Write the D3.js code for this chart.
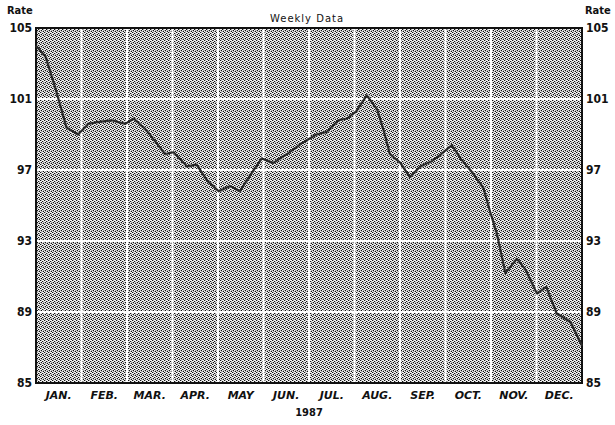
<!DOCTYPE html>
<html>
<head>
<meta charset="utf-8">
<script src="https://cdn.jsdelivr.net/npm/d3@7"></script>
<style>
  html, body { margin: 0; padding: 0; background: #fff; }
  svg { display: block; }
</style>
</head>
<body>
<div id="chart"></div>
<script>
// 1987 weekly rate (week number from Jan 1, value)
const weeks = [0, 0.9, 1.8, 2.9, 4.0, 5.0, 5.8, 7.2, 8.5, 9.3, 10.5, 12.3, 13.1, 14.4, 15.3,
    16.3, 17.4, 18.5, 19.4, 20.5, 21.5, 22.6, 23.9, 25.3, 26.7, 27.7, 28.8, 29.6, 30.5,
    31.5, 32.5, 33.1, 33.7, 34.7, 35.6, 36.6, 37.7, 38.6, 39.6, 40.5, 41.5, 42.6, 43.2,
    43.9, 44.7, 45.8, 46.6, 47.7, 48.6, 49.6, 50.9, 52];
const rates = [104.0, 103.4, 101.7, 99.4, 99.0, 99.6, 99.7, 99.8, 99.6, 99.9, 99.25, 97.9, 98.0, 97.2, 97.3,
    96.4, 95.8, 96.1, 95.8, 96.8, 97.65, 97.4, 97.9, 98.5, 99.0, 99.15, 99.8, 99.9, 100.3,
    101.2, 100.4, 99.25, 97.9, 97.4, 96.6, 97.2, 97.5, 97.9, 98.4, 97.6, 96.9, 96.0, 94.75,
    93.4, 91.2, 92.0, 91.4, 90.05, 90.4, 88.9, 88.45, 87.1];

const months = ['JAN.', 'FEB.', 'MAR.', 'APR.', 'MAY', 'JUN.', 'JUL.', 'AUG.', 'SEP.', 'OCT.', 'NOV.', 'DEC.'];
const yTicks = [85, 89, 93, 97, 101, 105];

const W = 615, H = 425;
const margin = { top: 28, right: 33, bottom: 42, left: 36 };
const width = W - margin.left - margin.right;
const height = H - margin.top - margin.bottom;

const svg = d3.select('#chart').append('svg')
    .attr('width', W)
    .attr('height', H);

// dithered grey fill (black / grey / white pixels)
const defs = svg.append('defs');
const pat = defs.append('pattern')
    .attr('id', 'dither')
    .attr('patternUnits', 'userSpaceOnUse')
    .attr('width', 4)
    .attr('height', 4);
pat.append('rect').attr('width', 4).attr('height', 4).attr('fill', '#f4f4f4');
[[1, 0], [3, 1], [0, 2], [2, 3], [3, 2], [1, 3]].forEach(([px, py]) => {
    pat.append('rect').attr('x', px).attr('y', py).attr('width', 1).attr('height', 1).attr('fill', '#b0b0b0');
});
[[0, 0], [2, 1], [1, 2], [3, 3]].forEach(([px, py]) => {
    pat.append('rect').attr('x', px).attr('y', py).attr('width', 1).attr('height', 1).attr('fill', '#111');
});

const x = d3.scaleLinear().domain([0, 52]).range([0, width]);
const xm = d3.scaleLinear().domain([0, 12]).range([0, width]);
const y = d3.scaleLinear().domain([85, 105]).range([height, 0]);

const g = svg.append('g').attr('transform', `translate(${margin.left},${margin.top})`);

g.append('rect')
    .attr('width', width)
    .attr('height', height)
    .attr('fill', 'url(#dither)');

// white grid
g.append('g').selectAll('line')
    .data(d3.range(1, 12))
    .join('line')
    .attr('x1', d => xm(d)).attr('x2', d => xm(d))
    .attr('y1', 0).attr('y2', height)
    .attr('stroke', '#fff').attr('stroke-width', 2);

g.append('g').selectAll('line')
    .data(yTicks.slice(1, -1))
    .join('line')
    .attr('x1', 0).attr('x2', width)
    .attr('y1', d => y(d)).attr('y2', d => y(d))
    .attr('stroke', '#fff').attr('stroke-width', 2);

// frame
g.append('rect')
    .attr('width', width)
    .attr('height', height)
    .attr('fill', 'none')
    .attr('stroke', '#111')
    .attr('stroke-width', 2);

// data line
const line = d3.line()
    .x((d, i) => x(weeks[i]))
    .y(d => y(d));

g.append('path')
    .datum(rates)
    .attr('d', line)
    .attr('fill', 'none')
    .attr('stroke', '#2a2a2a')
    .attr('stroke-width', 2.2)
    .attr('stroke-linejoin', 'round');

// y labels both sides
const numFont = '"DejaVu Sans Condensed", "DejaVu Sans", sans-serif';
const yl = svg.append('g')
    .attr('font-family', numFont)
    .attr('font-weight', 'bold')
    .attr('font-size', 12)
    .attr('fill', '#111');

yl.selectAll('text.l')
    .data(yTicks)
    .join('text')
    .attr('class', 'l')
    .attr('x', margin.left - 4)
    .attr('y', d => margin.top + y(d) + 4)
    .attr('text-anchor', 'end')
    .text(d => d);

yl.selectAll('text.r')
    .data(yTicks)
    .join('text')
    .attr('class', 'r')
    .attr('x', margin.left + width + 4)
    .attr('y', d => margin.top + y(d) + 4)
    .attr('text-anchor', 'start')
    .text(d => d);

yl.append('text').attr('x', 7).attr('y', 14).attr('font-size', 11).text('Rate');
yl.append('text').attr('x', 585).attr('y', 14).attr('font-size', 11).text('Rate');

// title
svg.append('text')
    .attr('x', margin.left + width / 2 - 2)
    .attr('y', 22)
    .attr('text-anchor', 'middle')
    .attr('font-family', '"DejaVu Sans", sans-serif')
    .attr('font-size', 10)
    .attr('letter-spacing', 1)
    .attr('fill', '#111')
    .text('Weekly Data');

// month labels
svg.append('g')
    .selectAll('text')
    .data(months)
    .join('text')
    .attr('x', (d, i) => margin.left + xm(i + 0.5))
    .attr('y', margin.top + height + 16)
    .attr('text-anchor', 'middle')
    .attr('font-family', '"DejaVu Sans", sans-serif')
    .attr('font-weight', 'bold')
    .attr('font-style', 'italic')
    .attr('font-size', 11)
    .attr('fill', '#111')
    .text(d => d);

svg.append('text')
    .attr('x', margin.left + width / 2)
    .attr('y', margin.top + height + 33)
    .attr('text-anchor', 'middle')
    .attr('font-family', numFont)
    .attr('font-weight', 'bold')
    .attr('font-size', 11)
    .attr('fill', '#111')
    .text('1987');
</script>
</body>
</html>
